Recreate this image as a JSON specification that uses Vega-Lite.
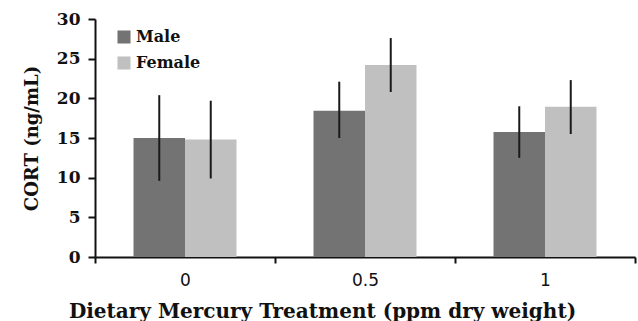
{
  "$schema": "https://vega.github.io/schema/vega-lite/v6.json",
  "autosize": "none",
  "width": 540,
  "height": 238,
  "padding": {"left": 95, "top": 19, "right": 3, "bottom": 64},
  "background": "white",
  "config": {"view": {"stroke": null}},
  "data": {"values": [
    {"dose": "0", "sex": "Male", "mean": 15.0, "lo": 9.6, "hi": 20.4},
    {"dose": "0", "sex": "Female", "mean": 14.8, "lo": 9.9, "hi": 19.7},
    {"dose": "0.5", "sex": "Male", "mean": 18.45, "lo": 15.0, "hi": 22.1},
    {"dose": "0.5", "sex": "Female", "mean": 24.2, "lo": 20.8, "hi": 27.6},
    {"dose": "1", "sex": "Male", "mean": 15.75, "lo": 12.5, "hi": 19.0},
    {"dose": "1", "sex": "Female", "mean": 18.95, "lo": 15.5, "hi": 22.3}
  ]},
  "encoding": {
    "x": {"field": "dose", "type": "nominal", "sort": ["0", "0.5", "1"],
      "scale": {"paddingInner": 0, "paddingOuter": 0},
      "axis": {"title": "Dietary Mercury Treatment (ppm dry weight)", "labelAngle": 0,
        "labelFont": "DejaVu Sans", "labelFontSize": 17, "labelColor": "#111", "labelPadding": 9,
        "titleFont": "DejaVu Serif", "titleFontSize": 20, "titleFontWeight": "bold", "titleColor": "#111", "titlePadding": 13, "titleX": 227,
        "domainColor": "#111", "domainWidth": 2, "tickColor": "#111", "tickWidth": 2, "tickSize": 6, "tickBand": "extent"}},
    "xOffset": {"field": "sex", "type": "nominal", "sort": ["Male", "Female"], "scale": {"paddingInner": 0, "paddingOuter": 0.748}}
  },
  "layer": [
    {
      "mark": {"type": "bar"},
      "encoding": {
        "y": {"field": "mean", "type": "quantitative", "scale": {"domain": [0, 30]},
          "axis": {"title": "CORT (ng/mL)", "values": [0, 5, 10, 15, 20, 25, 30], "grid": false,
            "labelFont": "DejaVu Serif", "labelFontSize": 17, "labelFontWeight": "bold", "labelColor": "#111", "labelPadding": 8,
            "titleFont": "DejaVu Serif", "titleFontSize": 18, "titleFontWeight": "bold", "titleColor": "#111", "titlePadding": 15,
            "domainColor": "#111", "domainWidth": 2, "tickColor": "#111", "tickWidth": 2, "tickSize": 7}},
        "color": {"field": "sex", "type": "nominal", "sort": ["Male", "Female"],
          "scale": {"domain": ["Male", "Female"], "range": ["#737373", "#c0c0c0"]},
          "legend": {"title": null, "orient": "none", "legendX": 21, "legendY": 10,
            "symbolType": "square", "symbolSize": 170, "symbolStrokeWidth": 0,
            "labelFont": "DejaVu Serif", "labelFontSize": 16, "labelFontWeight": "bold", "labelColor": "#111", "rowPadding": 10, "labelOffset": 4}}
      }
    },
    {
      "mark": {"type": "rule", "color": "#1a1a1a", "strokeWidth": 2},
      "encoding": {
        "y": {"field": "lo", "type": "quantitative",
          "axis": {"title": "CORT (ng/mL)", "values": [0, 5, 10, 15, 20, 25, 30], "grid": false,
            "labelFont": "DejaVu Serif", "labelFontSize": 17, "labelFontWeight": "bold", "labelColor": "#111", "labelPadding": 8,
            "titleFont": "DejaVu Serif", "titleFontSize": 18, "titleFontWeight": "bold", "titleColor": "#111", "titlePadding": 15,
            "domainColor": "#111", "domainWidth": 2, "tickColor": "#111", "tickWidth": 2, "tickSize": 7}},
        "y2": {"field": "hi"}
      }
    }
  ]
}
